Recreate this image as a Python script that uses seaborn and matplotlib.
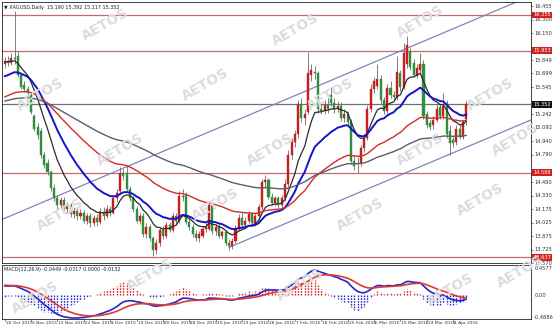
import numpy as np
import pandas as pd
import matplotlib
matplotlib.use("Agg")
import matplotlib.pyplot as plt
import seaborn as sns

# ---------------- data ----------------
opens = [15.80,15.84,15.82,15.87,15.90,15.68,15.57,15.53,15.46,15.22,
         15.10,15.05,14.78,14.70,14.59,14.42,14.30,14.22,14.28,14.18,
         14.22,14.12,14.16,14.10,14.14,14.05,14.10,14.02,14.08,14.03,
         14.15,14.10,14.18,14.14,14.30,14.38,14.58,14.58,14.40,14.30,
         14.18,14.05,14.10,13.90,13.98,13.85,13.72,13.80,13.95,13.88,
         14.00,13.95,14.10,14.05,14.33,14.34,14.04,13.98,13.90,13.85,
         13.88,13.96,13.96,14.22,13.93,13.98,13.88,13.92,13.80,13.76,
         13.82,13.96,14.08,14.00,14.05,14.12,14.02,14.10,14.20,14.48,
         14.50,14.32,14.25,14.30,14.22,14.30,14.46,14.78,14.93,15.02,
         15.36,15.20,15.27,15.68,15.72,15.70,15.30,15.28,15.35,15.46,
         15.37,15.30,15.34,15.20,15.25,15.15,14.72,14.70,14.70,14.86,
         14.98,15.30,15.52,15.56,15.64,15.40,15.28,15.54,15.46,15.44,
         15.70,15.55,15.80,15.95,15.82,15.68,15.74,15.80,15.25,15.14,
         15.12,15.18,15.32,15.22,15.36,15.05,14.95,14.93,15.08,14.99,
         15.190]
highs = [15.88,15.90,15.93,16.40,15.95,15.71,15.62,15.56,15.49,15.25,
         15.14,15.09,14.82,14.74,14.62,14.46,14.34,14.32,14.31,14.26,
         14.25,14.20,14.19,14.18,14.17,14.13,14.13,14.11,14.12,14.19,
         14.20,14.22,14.21,14.34,14.40,14.65,14.63,14.66,14.44,14.33,
         14.21,14.14,14.13,14.02,14.01,13.88,13.84,13.98,13.99,14.03,
         14.04,14.14,14.13,14.38,14.40,14.37,14.08,14.01,13.94,13.93,
         13.99,14.02,14.26,14.25,14.01,14.01,13.95,13.95,13.84,13.86,
         14.00,14.12,14.14,14.09,14.16,14.15,14.13,14.24,14.52,14.56,
         14.53,14.36,14.33,14.33,14.34,14.52,14.84,14.98,15.06,15.40,
         15.42,15.30,15.94,15.80,15.78,15.73,15.38,15.40,15.42,15.55,
         15.42,15.39,15.38,15.30,15.28,15.19,14.78,14.76,14.90,15.02,
         15.35,15.58,15.66,15.80,15.68,15.44,15.58,15.62,15.50,15.90,
         15.74,16.04,16.12,15.99,15.86,15.80,15.93,15.85,15.28,15.18,
         15.22,15.36,15.36,15.48,15.40,15.12,14.99,15.12,15.12,15.18,
         15.392]
lows = [15.76,15.78,15.79,15.80,15.66,15.52,15.49,15.45,15.24,15.05,
        14.97,14.75,14.64,14.56,14.38,14.27,14.18,14.19,14.15,14.14,
        14.09,14.08,14.06,14.07,14.02,14.01,13.98,13.99,13.99,14.01,
        14.06,14.08,14.10,14.12,14.26,14.35,14.50,14.38,14.27,14.15,
        14.02,14.01,13.87,13.86,13.82,13.65,13.68,13.77,13.84,13.85,
        13.92,13.92,14.01,14.02,14.27,14.01,13.95,13.87,13.82,13.81,
        13.85,13.92,13.94,13.90,13.89,13.85,13.84,13.78,13.72,13.73,
        13.80,13.93,13.97,13.96,14.02,13.99,13.99,14.06,14.17,14.43,
        14.29,14.22,14.21,14.19,14.19,14.27,14.43,14.74,14.88,14.98,
        15.16,15.12,15.24,15.62,15.64,15.26,15.24,15.25,15.26,15.34,
        15.26,15.27,15.17,15.16,15.12,14.68,14.62,14.58,14.66,14.82,
        14.95,15.27,15.48,15.52,15.36,15.24,15.25,15.42,15.40,15.40,
        15.50,15.52,15.76,15.74,15.66,15.65,15.70,15.19,15.09,15.06,
        15.08,15.15,15.19,15.19,14.98,14.78,14.88,14.90,14.96,14.96,
        15.117]
closes = [15.84,15.82,15.87,15.86,15.68,15.55,15.52,15.48,15.27,15.08,
          15.01,14.78,14.67,14.60,14.41,14.30,14.22,14.28,14.18,14.22,
          14.12,14.16,14.10,14.14,14.05,14.10,14.02,14.08,14.03,14.15,
          14.10,14.18,14.14,14.30,14.36,14.58,14.55,14.40,14.30,14.18,
          14.05,14.10,13.90,13.98,13.85,13.72,13.80,13.95,13.88,14.00,
          13.95,14.10,14.05,14.33,14.32,14.04,13.98,13.90,13.85,13.90,
          13.96,13.98,14.22,13.93,13.98,13.88,13.92,13.80,13.76,13.82,
          13.96,14.08,14.00,14.05,14.12,14.02,14.10,14.20,14.48,14.50,
          14.32,14.25,14.30,14.22,14.30,14.46,14.78,14.93,15.02,15.36,
          15.20,15.24,15.70,15.74,15.70,15.30,15.28,15.35,15.30,15.37,
          15.30,15.34,15.20,15.25,15.15,14.72,14.66,14.68,14.86,14.98,
          15.30,15.52,15.62,15.64,15.40,15.28,15.54,15.46,15.44,15.71,
          15.55,15.93,16.02,15.77,15.68,15.76,15.80,15.22,15.12,15.10,
          15.18,15.30,15.22,15.34,15.02,14.92,14.92,15.08,14.99,15.15,
          15.352]

date_labels = ["26 Oct 2015", "3 Nov 2015", "12 Nov 2015", "22 Nov 2015",
               "1 Dec 2015", "10 Dec 2015", "20 Dec 2015", "28 Dec 2015",
               "10 Jan 2016", "19 Jan 2016", "28 Jan 2016", "7 Feb 2016",
               "16 Feb 2016", "25 Feb 2016", "6 Mar 2016", "15 Mar 2016",
               "24 Mar 2016", "4 Apr 2016"]
date_label_bars = [0, 8, 16, 24, 32, 40, 48, 56, 64, 72, 80, 88, 96, 104,
                   112, 120, 128, 136]

price_ticks = [16.455, 16.300, 16.150, 15.849, 15.699, 15.545, 15.242,
               15.092, 14.940, 14.790, 14.480, 14.330, 14.175, 14.025,
               13.875, 13.725, 13.570]
level_lines = [16.355, 15.953, 14.588, 13.637]
last_price = 15.352

# moving-average periods and their starting values at the left edge
ma_periods = [10, 21, 50, 100]
ma_seeds = [15.83, 15.65, 15.42, 15.38]
ma_colors = ["#2b2b2b", "#1414c8", "#d42a2a", "#5c5c6c"]
ma_widths = [0.9, 1.4, 1.0, 1.0]

macd_seeds = [15.66, 15.52, 0.16]          # EMA12, EMA26, signal at left edge
macd_tick_labels = ["0.4577", "0.00", "-0.4886"]

# channel trend lines: (bar, price) anchors
upper_chan = [(-1.0, 14.06), (60.0, 15.013)]
lower_chan = [(68.0, 13.75), (114.5, 14.475)]

title_main = "XAGUSD,Daily  15.190 15.392 15.117 15.352"
title_macd = "MACD(12,26,9) -0.0449 -0.0317 0.0000 -0.0132"

# ---------------- computations ----------------
n = len(closes)
bars = np.arange(n)
df = pd.DataFrame({"bar": bars, "open": opens, "high": highs,
                   "low": lows, "close": closes})


def ema(values, period, seed):
    a = 2.0 / (period + 1)
    out = []
    prev = seed
    for v in values:
        prev = prev + a * (v - prev)
        out.append(prev)
    return np.array(out)


for p, s in zip(ma_periods, ma_seeds):
    df[f"ma{p}"] = ema(df["close"], p, s)

e12 = ema(df["close"], 12, macd_seeds[0])
e26 = ema(df["close"], 26, macd_seeds[1])
df["macd"] = e12 - e26
df["signal"] = ema(df["macd"], 9, macd_seeds[2])
df["hist"] = 2.0 * (df["macd"] - df["signal"])

# ---------------- figure ----------------
sns.set_theme(style="white")
plt.rcParams["font.family"] = ["DejaVu Sans"]
W, H = 560, 330
fig = plt.figure(figsize=(W / 100, H / 100), dpi=100)
fig.patch.set_facecolor("white")

L, R = 2, 531
ax = fig.add_axes([L / W, 1 - 263 / H, (R - L) / W, (263 - 2) / H])
axm = fig.add_axes([L / W, 1 - 319 / H, (R - L) / W, (319 - 265) / H])

xlim = (-0.8, 159.6)
for a in (ax, axm):
    a.set_xlim(*xlim)
    a.set_facecolor("white")
    a.patch.set_alpha(0.0)
    for sp in a.spines.values():
        sp.set_color("#222222")
        sp.set_linewidth(0.6)
    a.tick_params(left=False, bottom=False, labelleft=False, labelbottom=False)

ax.set_ylim(13.575, 16.50)

# watermarks
wm_pos = [(105, 25), (295, 30), (420, 22), (40, 95), (205, 85), (330, 95),
          (490, 95), (120, 150), (270, 150), (420, 150), (515, 140),
          (60, 215), (215, 205), (360, 215), (480, 200), (150, 275),
          (300, 285), (450, 290), (35, 298), (520, 272)]
for (px, py) in wm_pos:
    fig.text(px / W, 1 - py / H, "AETOS", fontsize=10, fontweight="bold",
             color="#dcdcdc", rotation=30, ha="center", va="center",
             zorder=0)

# level lines
for lv in level_lines:
    ax.axhline(lv, color="#c86868", lw=0.9, zorder=1)
ax.axhline(last_price, color="#707070", lw=0.9, zorder=1)

# channel lines
def chan_line(anchors, x_end):
    (x0, y0), (x1, y1) = anchors
    slope = (y1 - y0) / (x1 - x0)
    xs = np.array([x0, x_end])
    return xs, y0 + slope * (xs - x0)

xs, ys = chan_line(upper_chan, 170)
ax.plot(xs, ys, color="#7f84bb", lw=0.9, zorder=1)
xs, ys = chan_line(lower_chan, 170)
ax.plot(xs, ys, color="#7f84bb", lw=0.9, zorder=1)

# candles
up = df["close"] >= df["open"]
col = np.where(up, "#c81e1e", "#2f8f3a")
ax.vlines(df["bar"], df["low"], df["high"], colors="#6a6a6a", lw=0.6, zorder=2)
body = (df["close"] - df["open"]).abs().clip(lower=0.008)
ax.bar(df["bar"], body, bottom=np.minimum(df["open"], df["close"]),
       width=0.62, color=col, edgecolor=col, linewidth=0.3, zorder=3)

# moving averages
for p, c, w in zip(ma_periods, ma_colors, ma_widths):
    sns.lineplot(data=df, x="bar", y=f"ma{p}", ax=ax, color=c, lw=w,
                 zorder=4, legend=False)
ax.set_xlabel("")
ax.set_ylabel("")

# price axis labels (right)
fs = 3.7
for t in price_ticks:
    ax.text(1.006, t, f"{t:.3f}", transform=ax.get_yaxis_transform(),
            fontsize=fs, color="#333333", va="center", ha="left",
            clip_on=False)
    ax.plot([1.0, 1.004], [t, t], transform=ax.get_yaxis_transform(),
            color="#333333", lw=0.4, clip_on=False)
for lv in level_lines:
    ax.text(1.004, lv, f"{lv:.3f}", transform=ax.get_yaxis_transform(),
            fontsize=fs, color="white", va="center", ha="left",
            clip_on=False, zorder=6,
            bbox=dict(boxstyle="square,pad=0.18", fc="#d42020", ec="none"))
ax.text(1.004, last_price, f"{last_price:.3f}",
        transform=ax.get_yaxis_transform(), fontsize=fs, color="white",
        va="center", ha="left", clip_on=False, zorder=6,
        bbox=dict(boxstyle="square,pad=0.18", fc="#111111", ec="none"))

ax.text(0.004, 0.988, "\u25bc " + title_main, transform=ax.transAxes,
        fontsize=3.5, color="#222222", va="top", ha="left")

# ---------------- MACD ----------------
vals = np.concatenate([df["macd"], df["signal"], df["hist"]])
lo, hi = vals.min(), vals.max()
span = hi - lo
axm.set_ylim(lo - 0.02 * span, hi + 0.10 * span)
hc = np.where(df["hist"] >= 0, "#d42a2a", "#2a2ac8")
axm.vlines(df["bar"], 0, df["hist"], colors=hc, lw=1.0,
           linestyles=(0, (1.2, 0.8)), zorder=2)
sns.lineplot(data=df, x="bar", y="macd", ax=axm, color="#2424d0", lw=1.2,
             zorder=3, legend=False)
sns.lineplot(data=df, x="bar", y="signal", ax=axm, color="#e03a2a", lw=1.2,
             zorder=3, legend=False)
axm.set_xlabel("")
axm.set_ylabel("")
tick_pos = [(0.93, macd_tick_labels[0]), (None, macd_tick_labels[1]),
            (0.03, macd_tick_labels[2])]
for fy, lab in tick_pos:
    if fy is None:
        axm.text(1.006, 0.0, lab, transform=axm.get_yaxis_transform(),
                 fontsize=fs, color="#333333", va="center", ha="left",
                 clip_on=False)
    else:
        axm.text(1.006, fy, lab, transform=axm.transAxes,
                 fontsize=fs, color="#333333", va="center", ha="left",
                 clip_on=False)
axm.text(0.004, 0.96, title_macd, transform=axm.transAxes, fontsize=3.5,
         color="#222222", va="top", ha="left")

# date labels
for b, lab in zip(date_label_bars, date_labels):
    axm.text(b + 0.3, -0.03, lab, transform=axm.get_xaxis_transform(),
             fontsize=3.2, color="#333333", va="top", ha="left",
             clip_on=False)
    axm.plot([b, b], [0, -0.04], transform=axm.get_xaxis_transform(),
             color="#333333", lw=0.4, clip_on=False)

fig.savefig("out.png", dpi=100, facecolor="white")
